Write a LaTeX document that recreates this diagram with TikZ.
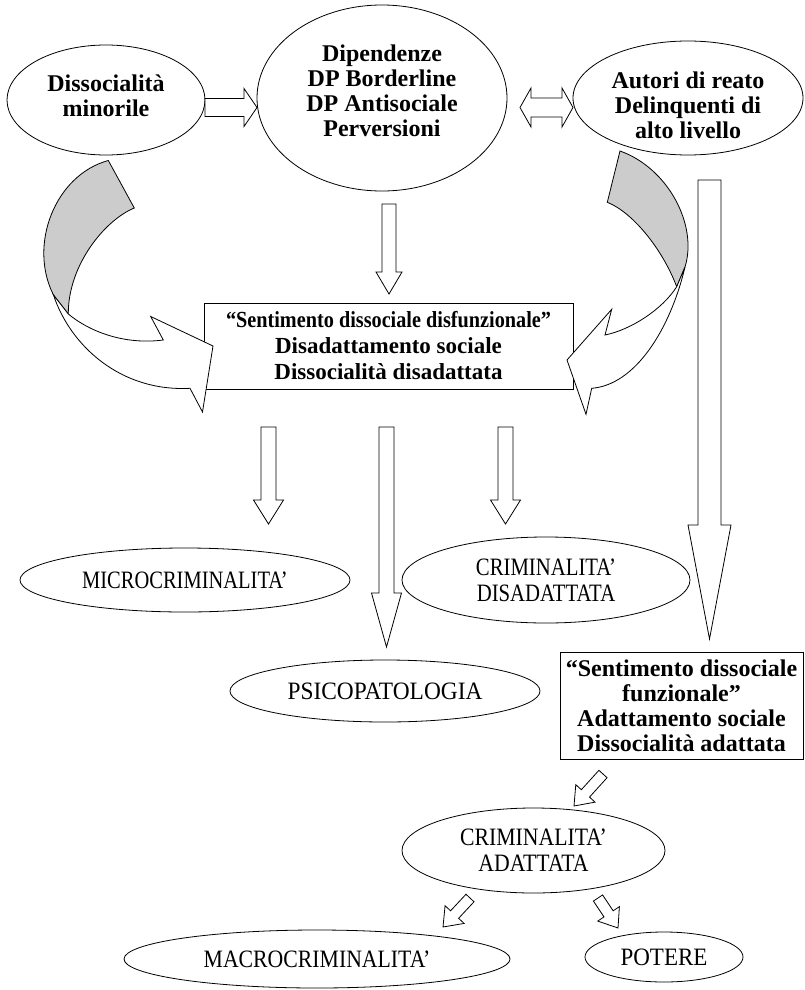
\documentclass[tikz,border=0pt]{standalone}
\usepackage{fontspec}
\setmainfont{Liberation Serif}
\usepackage{graphicx}
\usetikzlibrary{shapes.geometric,calc}
\definecolor{ribbongray}{RGB}{204,204,204}
\tikzset{
  ell/.style={draw, ellipse, line width=0.8pt, inner sep=0pt, align=center},
  bx/.style={draw, rectangle, line width=0.8pt, inner sep=0pt, align=center},
  blk/.style={draw, fill=white, line width=0.8pt, line join=miter},
  ribbon/.style={draw, line width=0.8pt, line join=miter},
  bfnt/.style={font=\fontsize{24}{25}\selectfont\bfseries},
  rfnt/.style={font=\fontsize{25}{26}\selectfont},
}
\newcommand\blkarrow[5]{%
  \coordinate (tmpH) at ($(#2)!#5!(#1)$);
  \draw[blk] ($(#1)!#3!90:(#2)$) -- ($(tmpH)!#3!-90:(#1)$) -- ($(tmpH)!#4!-90:(#1)$)
    -- (#2) -- ($(tmpH)!#4!90:(#1)$) -- ($(tmpH)!#3!90:(#1)$) -- ($(#1)!#3!-90:(#2)$) -- cycle;}
\begin{document}
\begin{tikzpicture}[x=1pt,y=-1pt]
\useasboundingbox (0,0) rectangle (805,990);

% top ellipses
\node[ell, minimum width=198pt, minimum height=110pt] (dm) at (106,100) {};
\node[bfnt, align=center] (dmtext) at (106,96) {Dissocialità\\minorile};
\node[ell, minimum width=250pt, minimum height=186pt] (dip) at (382,98) {};
\node[bfnt, align=center] (diptext) at (382,91) {Dipendenze\\DP Borderline\\DP Antisociale\\Perversioni};
\node[ell, minimum width=230pt, minimum height=114pt] (aut) at (688,98) {};
\node[bfnt, align=center] (auttext) at (688,105) {Autori di reato\\Delinquenti di\\alto livello};

% boxes
\node[bx, font=\fontsize{23}{26}\selectfont\bfseries, minimum width=369pt, minimum height=86pt] (dis) at (388.5,346)
  {\scalebox{0.88}[1]{“Sentimento dissociale disfunzionale”}\\Disadattamento sociale\\Dissocialità disadattata};
\node[bx, bfnt, minimum width=243pt, minimum height=107pt] (fun) at (681.5,705.5)
  {“Sentimento dissociale\\funzionale”\\Adattamento sociale\\Dissocialità adattata};

% lower ellipses
\node[ell, rfnt, minimum width=330pt, minimum height=64pt] (micro) at (185,580) {\scalebox{0.82}[1]{MICROCRIMINALITA’}};
\node[ell, rfnt, minimum width=288pt, minimum height=86pt] (crimdis) at (546,580) {\scalebox{0.83}[1]{CRIMINALITA’}\\\scalebox{0.83}[1]{DISADATTATA}};
\node[ell, rfnt, minimum width=310pt, minimum height=62pt] (psico) at (385,691) {\scalebox{0.935}[1]{PSICOPATOLOGIA}};
\node[ell, rfnt, minimum width=263pt, minimum height=85pt] (crimad) at (533.5,850.5) {\scalebox{0.87}[1]{CRIMINALITA’}\\\scalebox{0.87}[1]{ADATTATA}};
\node[ell, rfnt, minimum width=386pt, minimum height=58pt] (macro) at (317,959) {\scalebox{0.87}[1]{MACROCRIMINALITA’}};
\node[ell, rfnt, minimum width=158pt, minimum height=50pt] (potere) at (664,957) {\scalebox{0.92}[1]{POTERE}};

% block arrow end points
\coordinate (a1s) at (205,107.5);   \coordinate (a1e) at (257,107.5);
\coordinate (a3s) at (389,204);     \coordinate (a3e) at (389,294);
\coordinate (a4s) at (268.5,427);   \coordinate (a4e) at (268.5,524);
\coordinate (a5s) at (386.5,427);   \coordinate (a5e) at (386.5,647);
\coordinate (a6s) at (505.5,427);   \coordinate (a6e) at (505.5,524);
\coordinate (a7s) at (709.5,180);   \coordinate (a7e) at (709.5,639);
\coordinate (a8s) at (603,774);     \coordinate (a8e) at (574,806);
\coordinate (a9s) at (470,898);     \coordinate (a9e) at (443,927);
\coordinate (a10s) at (598,898);    \coordinate (a10e) at (618,928);

\blkarrow{a1s}{a1e}{9pt}{19pt}{13pt}
\blkarrow{a3s}{a3e}{7pt}{13pt}{22pt}
\blkarrow{a4s}{a4e}{7.5pt}{15pt}{24pt}
\blkarrow{a5s}{a5e}{7.5pt}{15pt}{54pt}
\blkarrow{a6s}{a6e}{7.5pt}{15pt}{24pt}
\blkarrow{a7s}{a7e}{11.5pt}{21.5pt}{114pt}
\blkarrow{a8s}{a8e}{5.5pt}{13pt}{17pt}
\blkarrow{a9s}{a9e}{5.5pt}{13pt}{17pt}
\blkarrow{a10s}{a10e}{5.5pt}{13pt}{17pt}

% double arrow between dip and aut
\draw[blk] (520,107.5) -- (531,88) -- (531,98) -- (562,98) -- (562,88) -- (573,107.5)
  -- (562,127) -- (562,117) -- (531,117) -- (531,127) -- cycle;

% left curved ribbon arrow
\draw[ribbon, fill=ribbongray] (108.3,160.5) .. controls (55,175) and (28,245) .. (53.5,295)
  -- (68.3,314) .. controls (68,265) and (105,220) .. (134.3,208) -- cycle;
\draw[ribbon, fill=white] (53.5,295) .. controls (70,345) and (120,392) .. (190,388.3)
  -- (202.5,412) -- (213,346) -- (150.7,316.5) -- (163.3,340)
  .. controls (125,345) and (90,332) .. (68.3,314) -- cycle;

% right curved ribbon arrow
\draw[ribbon, fill=ribbongray] (620,151) .. controls (668,168) and (698,225) .. (685,267)
  -- (676.7,286.7) .. controls (662,248) and (632,212) .. (607.3,202.3) -- cycle;
\draw[ribbon, fill=white] (685,267) .. controls (670,330) and (635,385) .. (591.7,388.3)
  -- (586,414.3) -- (567,360) -- (611.7,309.3) -- (605,335)
  .. controls (630,330) and (662,310) .. (676.7,286.7) -- cycle;
\end{tikzpicture}
\end{document}
